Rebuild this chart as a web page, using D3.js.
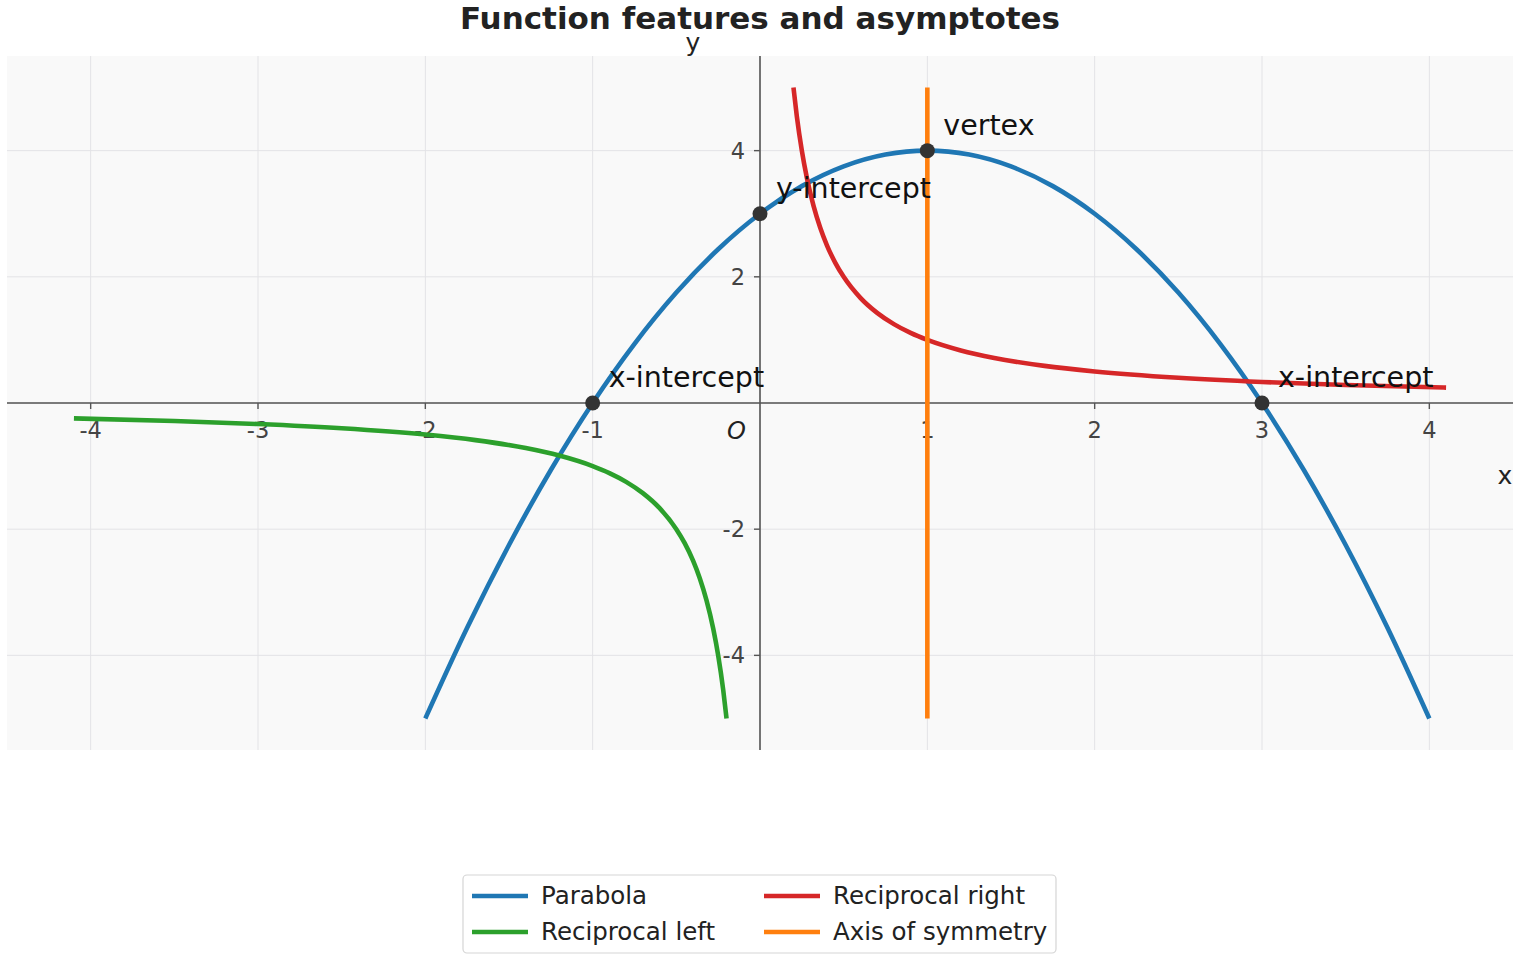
<!DOCTYPE html>
<html>
<head>
<meta charset="utf-8">
<script src="https://cdn.jsdelivr.net/npm/d3@7"></script>
<style>
  body { margin: 0; background: #fff; }
  text { font-family: "DejaVu Sans", sans-serif; }
</style>
</head>
<body>
<div id="chart"></div>
<script>
// Series values
const parabolaX = [-2, -1.75, -1.5, -1.25, -1, -0.75, -0.5, -0.25, 0, 0.25, 0.5, 0.75, 1,
                   1.25, 1.5, 1.75, 2, 2.25, 2.5, 2.75, 3, 3.25, 3.5, 3.75, 4];
const parabolaY = [-5, -3.5625, -2.25, -1.0625, 0, 0.9375, 1.75, 2.4375, 3, 3.4375, 3.75, 3.9375, 4,
                   3.9375, 3.75, 3.4375, 3, 2.4375, 1.75, 0.9375, 0, -1.0625, -2.25, -3.5625, -5];

const recipRightX = [0.2, 0.22, 0.25, 0.28, 0.32, 0.36, 0.4, 0.45, 0.5, 0.6, 0.7, 0.8, 0.9, 1,
                     1.2, 1.4, 1.7, 2, 2.5, 3, 3.5, 4.1];
const recipRightY = [5, 4.545, 4, 3.571, 3.125, 2.778, 2.5, 2.222, 2, 1.667, 1.429, 1.25, 1.111, 1,
                     0.833, 0.714, 0.588, 0.5, 0.4, 0.333, 0.286, 0.244];

const recipLeftX = [-4.1, -3.5, -3, -2.5, -2, -1.7, -1.4, -1.2, -1, -0.9, -0.8, -0.7, -0.6,
                    -0.5, -0.45, -0.4, -0.36, -0.32, -0.28, -0.25, -0.22, -0.2];
const recipLeftY = [-0.244, -0.286, -0.333, -0.4, -0.5, -0.588, -0.714, -0.833, -1, -1.111, -1.25, -1.429, -1.667,
                    -2, -2.222, -2.5, -2.778, -3.125, -3.571, -4, -4.545, -5];

const symmetryX = [1, 1];
const symmetryY = [-5, 5];

const keyPoints = [
  { x: -1, y: 0, label: "x-intercept" },
  { x: 0, y: 3, label: "y-intercept" },
  { x: 1, y: 4, label: "vertex" },
  { x: 3, y: 0, label: "x-intercept" }
];

const xTicks = [-4, -3, -2, -1, 1, 2, 3, 4];
const yTicks = [-4, -2, 2, 4];
const xGrid = [-4, -3, -2, -1, 0, 1, 2, 3, 4];
const yGrid = [-4, -2, 0, 2, 4];

const series = [
  { name: "Parabola", xs: parabolaX, ys: parabolaY, color: "#1f77b4" },
  { name: "Reciprocal right", xs: recipRightX, ys: recipRightY, color: "#d62728" },
  { name: "Reciprocal left", xs: recipLeftX, ys: recipLeftY, color: "#2ca02c" },
  { name: "Axis of symmetry", xs: symmetryX, ys: symmetryY, color: "#ff7f0e" }
];
const legendOrder = ["Parabola", "Reciprocal left", "Reciprocal right", "Axis of symmetry"];

const W = 1520, H = 960;
const plot = { left: 7, right: 1513, top: 56, bottom: 750 };

const svg = d3.select("#chart").append("svg")
  .attr("width", W).attr("height", H);

const x = d3.scaleLinear().domain([-4.5, 4.5]).range([plot.left, plot.right]);
const y = d3.scaleLinear().domain([-5.5, 5.5]).range([plot.bottom, plot.top]);

// background
svg.append("rect")
  .attr("x", plot.left).attr("y", plot.top)
  .attr("width", plot.right - plot.left).attr("height", plot.bottom - plot.top)
  .attr("fill", "#f9f9f9");

// grid
const grid = svg.append("g").attr("stroke", "#e3e3e6").attr("stroke-width", 1);
grid.selectAll(".gx").data(xGrid).enter().append("line")
  .attr("x1", d => x(d)).attr("x2", d => x(d))
  .attr("y1", plot.top).attr("y2", plot.bottom);
grid.selectAll(".gy").data(yGrid).enter().append("line")
  .attr("y1", d => y(d)).attr("y2", d => y(d))
  .attr("x1", plot.left).attr("x2", plot.right);

// spines through zero
const axisColor = "#555";
svg.append("line")
  .attr("x1", plot.left).attr("x2", plot.right)
  .attr("y1", y(0)).attr("y2", y(0))
  .attr("stroke", axisColor).attr("stroke-width", 1.6);
svg.append("line")
  .attr("x1", x(0)).attr("x2", x(0))
  .attr("y1", plot.top).attr("y2", plot.bottom)
  .attr("stroke", axisColor).attr("stroke-width", 1.6);

// ticks and labels
const tickG = svg.append("g");
tickG.selectAll(".tx").data(xTicks).enter().append("line")
  .attr("x1", d => x(d)).attr("x2", d => x(d))
  .attr("y1", y(0)).attr("y2", y(0) + 6)
  .attr("stroke", axisColor).attr("stroke-width", 1.4);
tickG.selectAll(".tlx").data(xTicks).enter().append("text")
  .attr("x", d => x(d)).attr("y", y(0) + 35)
  .attr("text-anchor", "middle")
  .attr("font-size", 22.5).attr("fill", "#444")
  .text(d => d);
tickG.selectAll(".ty").data(yTicks).enter().append("line")
  .attr("x1", x(0) - 6).attr("x2", x(0))
  .attr("y1", d => y(d)).attr("y2", d => y(d))
  .attr("stroke", axisColor).attr("stroke-width", 1.4);
tickG.selectAll(".tly").data(yTicks).enter().append("text")
  .attr("x", x(0) - 15).attr("y", d => y(d) + 8)
  .attr("text-anchor", "end")
  .attr("font-size", 22.5).attr("fill", "#444")
  .text(d => d);

// origin label
svg.append("text")
  .attr("x", x(0) - 14).attr("y", y(0) + 36)
  .attr("text-anchor", "end")
  .attr("font-size", 24).attr("font-style", "italic").attr("fill", "#222")
  .text("O");

// axis labels
svg.append("text")
  .attr("x", 1505).attr("y", 484)
  .attr("text-anchor", "middle")
  .attr("font-size", 25).attr("fill", "#222")
  .text("x");
svg.append("text")
  .attr("x", 693).attr("y", 51)
  .attr("text-anchor", "middle")
  .attr("font-size", 25).attr("fill", "#222")
  .text("y");

// curves
const line = d3.line()
  .x(d => x(d[0])).y(d => y(d[1]))
  .curve(d3.curveMonotoneX);
const lineStraight = d3.line().x(d => x(d[0])).y(d => y(d[1]));

series.forEach(s => {
  const pts = s.xs.map((v, i) => [v, s.ys[i]]);
  svg.append("path")
    .attr("d", s.name === "Axis of symmetry" ? lineStraight(pts) : line(pts))
    .attr("fill", "none")
    .attr("stroke", s.color)
    .attr("stroke-width", 4.6)
    .attr("stroke-linecap", "butt");
});

// key points
svg.selectAll(".kp").data(keyPoints).enter().append("circle")
  .attr("cx", d => x(d.x)).attr("cy", d => y(d.y))
  .attr("r", 7.5).attr("fill", "#333");
svg.selectAll(".kpl").data(keyPoints).enter().append("text")
  .attr("x", d => x(d.x) + 16).attr("y", d => y(d.y) - 16)
  .attr("font-size", 28.5).attr("fill", "#111")
  .text(d => d.label);

// title
svg.append("text")
  .attr("x", 760).attr("y", 29)
  .attr("text-anchor", "middle")
  .attr("font-size", 31).attr("font-weight", "bold").attr("fill", "#222")
  .text("Function features and asymptotes");

// legend
const legend = svg.append("g");
legend.append("rect")
  .attr("x", 463).attr("y", 875).attr("width", 593).attr("height", 78)
  .attr("rx", 4).attr("fill", "#fff").attr("stroke", "#d5d5d5").attr("stroke-width", 1.2);
const colorOf = new Map(series.map(s => [s.name, s.color]));
legendOrder.forEach((name, i) => {
  const col = i < 2 ? 0 : 1;
  const row = i % 2;
  const lx = 472 + col * 292;
  const ly = 896 + row * 36;
  legend.append("line")
    .attr("x1", lx).attr("x2", lx + 56)
    .attr("y1", ly).attr("y2", ly)
    .attr("stroke", colorOf.get(name)).attr("stroke-width", 4.6);
  legend.append("text")
    .attr("x", lx + 69).attr("y", ly + 8)
    .attr("font-size", 24.5).attr("fill", "#222")
    .text(name);
});
</script>
</body>
</html>
